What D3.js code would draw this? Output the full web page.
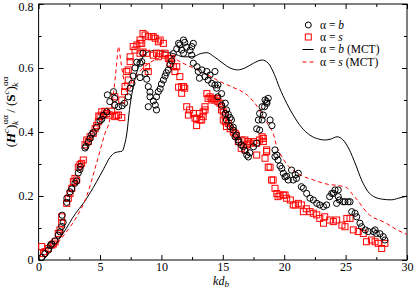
<!DOCTYPE html>
<html>
<head>
<meta charset="utf-8">
<script src="https://cdn.jsdelivr.net/npm/d3@7"></script>
<style>
  body { margin: 0; background: #fff; }
  svg { display: block; font-family: "Liberation Serif", "Times New Roman", serif; }
</style>
</head>
<body>
<svg width="415" height="289"></svg>
<script>
// alpha = b (circles)
const kdB = [0.25,0.52,0.8,0.95,1.07,1.34,1.6,1.74,1.88,1.92,2.0,2.29,2.3,2.56,2.7,2.96,3.1,3.23,3.37,3.4,3.78,3.85,4.05,4.19,4.32,4.45,4.73,5.0,5.14,5.27,5.55,
  5.8,5.6,6.1,6.2,6.2,6.5,6.8,7.0,7.3,7.45,7.6,7.7,7.85,8.0,8.26,8.4,8.5,8.67,8.26,8.8,8.93,9.07,9.07,9.34,9.5,8.93,9.6,9.6,9.75,9.9,10.0,10.16,10.3,10.4,10.56,10.7,10.84,10.97,
  11.25,11.4,11.5,11.65,11.8,11.9,12.06,12.33,12.47,12.6,11.8,12.47,12.6,12.9,13.0,13.1,13.3,13.55,13.7,13.8,13.96,14.1,14.36,14.36,14.6,14.5,14.9,14.6,14.9,
  15.2,15.2,15.3,15.3,15.45,15.6,15.6,15.7,15.85,15.85,16.0,16.1,16.26,16.3,16.5,16.67,16.8,16.95,17.08,17.2,17.5,17.76,17.76,17.9,18.0,18.0,18.2,18.2,18.3,18.44,18.4,18.57,18.6,18.7,18.85,19.0,
  19.25,19.25,19.4,19.5,19.66,19.8,19.93,20.07,20.2,20.33,20.6,20.74,20.9,21.0,21.15,21.4,21.56,21.83,22.1,22.37,22.65,22.9,23.2,23.45,23.7,23.87,24.0,24.14,24.4,24.4,24.27,24.5,24.8,24.95,25.2,25.36,
  25.5,25.77,25.9,26.17,26.3,26.6,26.85,27.26,27.4,27.5,27.8,28.06,28.2];
const ratioB = [0.008,0.02,0.031,0.045,0.05,0.06,0.078,0.088,0.105,0.14,0.118,0.18,0.193,0.213,0.222,0.24,0.247,0.272,0.283,0.292,0.35,0.355,0.368,0.38,0.392,0.398,0.415,0.435,0.44,0.452,0.463,
  0.495,0.516,0.526,0.505,0.484,0.479,0.482,0.49,0.51,0.537,0.552,0.575,0.6,0.618,0.615,0.62,0.646,0.583,0.57,0.565,0.542,0.525,0.51,0.497,0.484,0.479,0.469,0.51,0.526,0.535,0.55,0.5625,0.575,0.585,0.594,0.61,0.622,0.645,
  0.66,0.677,0.672,0.656,0.6875,0.68,0.665,0.655,0.667,0.677,0.646,0.64,0.615,0.604,0.589,0.568,0.594,0.573,0.589,0.5625,0.578,0.552,0.589,0.547,0.547,0.537,0.52,0.51,0.484,
  0.49,0.458,0.469,0.4375,0.455,0.445,0.417,0.4375,0.415,0.406,0.385,0.39,0.375,0.368,0.36,0.354,0.342,0.328,0.322,0.335,0.354,0.365,0.41,0.4375,0.406,0.458,0.4375,0.479,0.453,0.5,0.479,0.495,0.49,0.505,0.4375,0.42,
  0.344,0.323,0.328,0.3125,0.294,0.286,0.271,0.26,0.262,0.25,0.281,0.25,0.266,0.255,0.271,0.229,0.224,0.208,0.193,0.1875,0.177,0.172,0.167,0.172,0.198,0.208,0.208,0.219,0.219,0.198,0.177,0.1875,0.182,0.182,0.182,0.182,
  0.151,0.146,0.135,0.115,0.104,0.094,0.089,0.089,0.094,0.083,0.082,0.073,0.0625];

// alpha = s (squares)
const kdS = [0.25,0.4,0.52,0.8,1.07,1.2,1.34,1.6,1.74,1.88,1.88,2.29,2.42,2.56,2.7,2.83,2.96,3.1,3.23,3.37,3.5,3.64,3.78,3.92,4.05,4.19,4.45,4.6,4.73,4.86,4.9,5.0,5.14,5.27,5.4,5.55,5.8,5.95,6.2,6.36,6.5,6.77,
  6.77,6.2,7.0,7.04,7.17,7.3,7.3,7.45,7.45,7.7,7.85,8.0,8.26,8.26,8.26,8.4,8.5,8.5,8.67,8.8,8.8,8.93,8.93,9.2,9.34,9.34,9.5,9.6,9.75,9.75,9.9,9.9,10.16,10.3,10.3,10.56,10.7,10.84,10.7,10.97,11.1,11.25,
  11.5,11.4,11.65,11.65,11.8,11.9,12.06,12.2,12.3,12.6,12.74,12.87,12.87,13.1,13.14,13.28,13.4,13.4,13.55,13.55,13.7,13.8,13.96,14.1,14.2,14.36,14.5,14.6,14.77,14.9,14.9,15.04,15.04,15.2,15.2,15.3,15.45,15.6,15.85,
  16.0,16.1,16.26,16.5,16.5,16.8,16.8,16.95,17.08,17.2,17.5,17.76,17.76,18.0,18.2,18.3,18.3,18.57,18.57,18.44,18.7,18.85,18.97,19.1,19.25,19.4,19.5,19.66,19.93,20.07,20.2,20.5,20.74,20.9,21.15,21.4,21.56,21.8,
  22.1,22.37,22.65,22.9,23.2,23.3,23.7,24.0,24.27,24.7,24.95,25.1,25.36,25.63,26.03,26.44,26.7,27.1,27.4,27.66,27.94,28.2];
const ratioS = [0.042,0.02,0.026,0.036,0.047,0.05,0.057,0.083,0.094,0.115,0.135,0.177,0.193,0.208,0.224,0.245,0.255,0.25,0.29,0.298,0.302,0.3125,0.36,0.375,0.37,0.385,0.396,0.41,0.42,0.432,0.45,0.448,0.463,0.453,0.465,0.458,0.453,0.465,0.448,0.452,0.453,0.445,
  0.5,0.51,0.526,0.542,0.589,0.5625,0.594,0.62,0.635,0.667,0.656,0.672,0.677,0.646,0.6875,0.677,0.708,0.65,0.703,0.646,0.604,0.698,0.589,0.698,0.698,0.64,0.693,0.646,0.682,0.635,0.6875,0.646,0.677,0.646,0.64,0.63,0.63,0.63,0.615,0.604,0.589,0.604,
  0.573,0.54,0.542,0.521,0.542,0.537,0.479,0.453,0.469,0.458,0.443,0.42,0.443,0.458,0.4375,0.4375,0.463,0.448,0.479,0.469,0.52,0.505,0.51,0.5,0.505,0.5,0.505,0.495,0.49,0.479,0.469,0.463,0.4375,0.453,0.432,0.417,0.427,0.41,0.40,
  0.396,0.39,0.37,0.375,0.349,0.375,0.344,0.36,0.37,0.365,0.37,0.365,0.328,0.375,0.385,0.38,0.37,0.344,0.339,0.318,0.29,0.29,0.25,0.25,0.224,0.208,0.198,0.203,0.203,0.203,0.193,0.1875,0.172,0.172,0.177,0.172,0.151,0.16,
  0.151,0.146,0.141,0.13,0.115,0.135,0.125,0.12,0.125,0.109,0.104,0.13,0.13,0.094,0.089,0.083,0.057,0.0625,0.057,0.052,0.036,0.052];

// MCT curves
const mctKdB = [0.4,1,2,3,3.64,4.2,4.73,5.3,5.8,6.2,6.5,6.8,7.0,7.2,7.4,7.7,8.1,8.5,8.9,9.5,10.3,11,11.8,12.5,13.2,13.7,14.3,15,15.6,16.2,16.8,17.5,18.2,18.7,19.2,19.6,20.2,20.7,21.4,22.1,22.8,23.3,23.8,24.3,24.8,25.3,25.8,26.3,26.8,27.3,28,28.7,29.3,30];
const mctB = [0,0.03,0.083,0.145,0.177,0.21,0.245,0.285,0.32,0.335,0.338,0.34,0.36,0.40,0.47,0.54,0.60,0.635,0.65,0.655,0.65,0.645,0.635,0.635,0.645,0.648,0.635,0.615,0.60,0.594,0.60,0.615,0.625,0.615,0.58,0.54,0.49,0.455,0.415,0.39,0.378,0.375,0.378,0.385,0.375,0.345,0.30,0.25,0.215,0.198,0.19,0.188,0.193,0.2];
const mctKdS = [0.4,1,2,3.1,3.9,4.7,5.4,5.8,6.1,6.35,6.5,6.7,6.95,7.2,7.5,8.0,8.5,9.0,9.6,10.2,10.8,11.5,12.6,13.7,14.8,15.8,17.0,17.8,18.4,18.8,19.1,19.4,19.66,20.2,21.3,22.4,23.5,24.5,25.1,25.5,25.9,26.8,28.3,29.2,30];
const mctS = [0.005,0.028,0.075,0.135,0.198,0.30,0.395,0.44,0.52,0.61,0.667,0.62,0.56,0.525,0.54,0.575,0.60,0.615,0.628,0.635,0.635,0.62,0.60,0.58,0.557,0.54,0.515,0.48,0.44,0.417,0.396,0.354,0.333,0.30,0.266,0.25,0.237,0.232,0.226,0.208,0.19,0.146,0.115,0.094,0.08];

const xTicks = [0, 5, 10, 15, 20, 25, 30];
const yTicks = [0, 0.2, 0.4, 0.6, 0.8];
const legendLabels = ["α = b", "α = s", "α = b (MCT)", "α = s (MCT)"];

let svg = d3.select("svg");
let plotLeft = 38.6, plotRight = 407, plotTop = 4, plotBottom = 260;

let x = d3.scaleLinear().domain([0, 30]).range([plotLeft, plotRight]);
let y = d3.scaleLinear().domain([0, 0.8]).range([plotBottom, plotTop]);

// frame
svg.append("rect")
  .attr("x", plotLeft).attr("y", plotTop)
  .attr("width", plotRight - plotLeft).attr("height", plotBottom - plotTop)
  .attr("fill", "none").attr("stroke", "#000").attr("stroke-width", 1);

// ticks inside on all sides
function tickFmt(d) { return d === 0 ? "0" : String(d); }
let xMinor = d3.range(2.5, 30, 5);
let yMinor = d3.range(0.1, 0.8, 0.2);

svg.append("g").attr("transform", `translate(0,${plotBottom})`)
  .call(d3.axisBottom(x).tickValues(xTicks).tickSize(-5).tickPadding(2).tickFormat(tickFmt));
svg.append("g").attr("transform", `translate(0,${plotBottom})`)
  .call(d3.axisBottom(x).tickValues(xMinor).tickSize(-3).tickFormat(""));
svg.append("g").attr("transform", `translate(0,${plotTop})`)
  .call(d3.axisTop(x).tickValues(xTicks).tickSize(-5).tickFormat(""));
svg.append("g").attr("transform", `translate(0,${plotTop})`)
  .call(d3.axisTop(x).tickValues(xMinor).tickSize(-3).tickFormat(""));
let yAxis = svg.append("g").attr("transform", `translate(${plotLeft},0)`)
  .call(d3.axisLeft(y).tickValues(yTicks).tickSize(-5).tickPadding(5).tickFormat(tickFmt));
svg.append("g").attr("transform", `translate(${plotLeft},0)`)
  .call(d3.axisLeft(y).tickValues(yMinor).tickSize(-3).tickFormat(""));
svg.append("g").attr("transform", `translate(${plotRight},0)`)
  .call(d3.axisRight(y).tickValues(yTicks).tickSize(-5).tickFormat(""));
svg.append("g").attr("transform", `translate(${plotRight},0)`)
  .call(d3.axisRight(y).tickValues(yMinor).tickSize(-3).tickFormat(""));

svg.selectAll(".domain").remove();
svg.selectAll(".tick line").attr("stroke", "#000");
svg.selectAll(".tick text")
  .attr("fill", "#000")
  .style("font-family", '"Liberation Serif", "Times New Roman", serif')
  .style("font-size", "12px");
// top label sits at the very edge, nudge it in a little
yAxis.selectAll(".tick text").filter(d => d === 0.8).attr("dy", "0.5em");

// MCT lines
let line = d3.line().x(d => x(d[0])).y(d => y(d[1])).curve(d3.curveMonotoneX);

svg.append("path")
  .datum(mctKdB.map((k, i) => [k, mctB[i]]))
  .attr("d", line)
  .attr("fill", "none").attr("stroke", "#000").attr("stroke-width", 1);

svg.append("path")
  .datum(mctKdS.map((k, i) => [k, mctS[i]]))
  .attr("d", line)
  .attr("fill", "none").attr("stroke", "#ff0000").attr("stroke-width", 1)
  .attr("stroke-dasharray", "4,3");

// squares
let sq = 6;
svg.append("g").selectAll("rect")
  .data(kdS.map((k, i) => [k, ratioS[i]]))
  .enter().append("rect")
  .attr("x", d => x(d[0]) - sq / 2)
  .attr("y", d => y(d[1]) - sq / 2)
  .attr("width", sq).attr("height", sq)
  .attr("fill", "none").attr("stroke", "#ff0000").attr("stroke-width", 1);

// circles
svg.append("g").selectAll("circle")
  .data(kdB.map((k, i) => [k, ratioB[i]]))
  .enter().append("circle")
  .attr("cx", d => x(d[0]))
  .attr("cy", d => y(d[1]))
  .attr("r", 3.1)
  .attr("fill", "none").attr("stroke", "#000").attr("stroke-width", 1);

// legend
let legendY = [25, 37, 49.5, 62];
let lg = svg.append("g");
lg.append("circle").attr("cx", 308.3).attr("cy", legendY[0]).attr("r", 3)
  .attr("fill", "none").attr("stroke", "#000");
lg.append("rect").attr("x", 305.3).attr("y", legendY[1] - 3).attr("width", 6).attr("height", 6)
  .attr("fill", "none").attr("stroke", "#ff0000");
lg.append("line").attr("x1", 302.5).attr("x2", 313.5).attr("y1", legendY[2]).attr("y2", legendY[2])
  .attr("stroke", "#000");
lg.append("line").attr("x1", 302.5).attr("x2", 313.5).attr("y1", legendY[3]).attr("y2", legendY[3])
  .attr("stroke", "#ff0000").attr("stroke-dasharray", "4,3");

legendLabels.forEach((lab, i) => {
  let t = lg.append("text").attr("x", 320).attr("y", legendY[i] + 3.5)
    .style("font-size", "11.5px");
  let parts = lab.split(" ");
  // "α", "=", letter, maybe "(MCT)"
  t.append("tspan").text(parts[0] + " " + parts[1] + " ");
  t.append("tspan").style("font-style", "italic").text(parts[2]);
  if (parts[3]) t.append("tspan").text(" " + parts[3]);
});

// x label
let xl = svg.append("text").attr("x", 221).attr("y", 284.5)
  .attr("text-anchor", "middle").style("font-size", "12px").style("font-style", "italic");
xl.append("tspan").text("kd");
xl.append("tspan").attr("dy", 2.5).style("font-size", "9px").text("b");

// y label
let yl = svg.append("text")
  .attr("transform", "translate(15,112) rotate(-90)")
  .attr("text-anchor", "middle").style("font-size", "13px");
yl.append("tspan").text("(");
yl.append("tspan").style("font-weight", "bold").style("font-style", "italic").text("H");
yl.append("tspan").attr("dy", -6).style("font-size", "9px").style("font-style", "italic").text("c");
yl.append("tspan").attr("dy", 6).text(")");
yl.append("tspan").attr("dy", -7).style("font-size", "9px").text("αα");
yl.append("tspan").attr("dx", -10).attr("dy", 10).style("font-size", "9px").style("font-style", "italic").text("k");
yl.append("tspan").attr("dx", 5).attr("dy", -3).text(" / (");
yl.append("tspan").style("font-weight", "bold").text("S");
yl.append("tspan").attr("dy", -6).style("font-size", "9px").style("font-style", "italic").text("c");
yl.append("tspan").attr("dy", 6).text(")");
yl.append("tspan").attr("dy", -7).style("font-size", "9px").text("αα");
yl.append("tspan").attr("dx", -10).attr("dy", 10).style("font-size", "9px").style("font-style", "italic").text("k");
</script>
</body>
</html>
